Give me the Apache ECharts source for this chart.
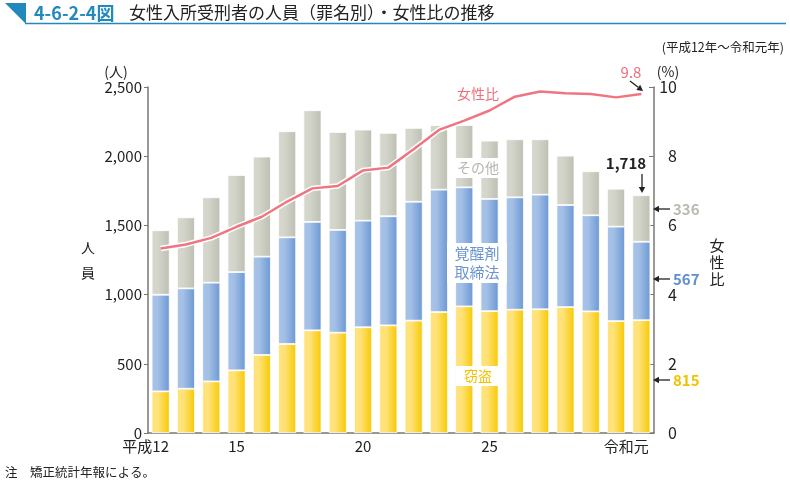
<!DOCTYPE html>
<html><head><meta charset="utf-8">
<script src="https://cdn.jsdelivr.net/npm/echarts@6/dist/echarts.min.js"></script>
<style>html,body{margin:0;padding:0;background:#fff}#c{width:790px;height:482px}</style>
</head><body><div id="c"></div>
<script>
const categories = ['平成12','13','14','15','16','17','18','19','20','21','22','23','24','25','26','27','28','29','30','令和元'];
const theft      = [301,320,373,453,564,643,742,725,764,778,812,874,915,881,891,894,910,879,809,815];
const stimulants = [698,725,713,710,710,771,783,742,770,788,859,884,860,810,812,828,737,694,682,567];
const others     = [466,513,617,701,723,766,807,708,658,602,533,467,450,421,419,400,357,318,274,336];
const femaleRatio = [5.33,5.45,5.64,5.96,6.25,6.69,7.07,7.14,7.59,7.67,8.2,8.76,9.03,9.32,9.72,9.87,9.82,9.8,9.7,9.8];
const shownLabels = {0:'{t|平成12}{h|平成}', 3:'15', 8:'20', 13:'25', 19:'{t|令和元}{h|令和}'};

const FONT = '"Noto Sans CJK JP", "Noto Sans", sans-serif';
const chart = echarts.init(document.getElementById('c'));

function grad(l, m, r) {
  return new echarts.graphic.LinearGradient(0, 0, 1, 0, [
    {offset: 0, color: l}, {offset: 0.35, color: m}, {offset: 1, color: r}
  ]);
}
function txt(text, x, y, color, size, opts) {
  return Object.assign({type: 'text', z: 100, style: Object.assign({
    text: text, x: x, y: y, fill: color, font: (opts && opts.bold ? 'bold ' : '') + size + 'px ' + FONT,
    textAlign: 'left', textVerticalAlign: 'middle'
  }, opts && opts.style || {})}, {});
}
function arrow(x1, y1, x2, y2) {
  const ang = Math.atan2(y2 - y1, x2 - x1), L = 6, W = 3.2;
  const bx = x2 - L * Math.cos(ang), by = y2 - L * Math.sin(ang);
  const px = -Math.sin(ang) * W, py = Math.cos(ang) * W;
  return [
    {type: 'line', z: 100, shape: {x1: x1, y1: y1, x2: bx, y2: by}, style: {stroke: '#222', lineWidth: 1.3}},
    {type: 'polygon', z: 100, shape: {points: [[x2, y2], [bx + px, by + py], [bx - px, by - py]]}, style: {fill: '#222'}}
  ];
}
const TEAL = '#2389bd';
const axisColor = '#7a7672';

const graphic = [
  {type: 'polygon', shape: {points: [[5, 3], [26, 3], [26, 24]]}, style: {fill: TEAL}},
  {type: 'line', shape: {x1: 25, y1: 23.5, x2: 786, y2: 23.5}, style: {stroke: TEAL, lineWidth: 1.6}},
  txt('4-6-2-4図', 34, 13, TEAL, 18, {bold: true}),
  txt('女性入所受刑者の人員（罪名別）・女性比の推移', 129, 13, '#222', 17),
  txt('(平成12年～令和元年)', 784, 47, '#222', 12.5, {style: {textAlign: 'right'}}),
  txt('(人)', 116, 72, '#222', 14, {style: {textAlign: 'center'}}),
  txt('人', 88, 248, '#222', 14, {style: {textAlign: 'center'}}),
  txt('員', 88, 273, '#222', 14, {style: {textAlign: 'center'}}),
  txt('(%)', 668, 72, '#222', 14, {style: {textAlign: 'center'}}),
  txt('女', 717, 245, '#222', 15, {style: {textAlign: 'center'}}),
  txt('性', 717, 262, '#222', 15, {style: {textAlign: 'center'}}),
  txt('比', 717, 279, '#222', 15, {style: {textAlign: 'center'}}),
  txt('9.8', 631, 72, '#ee6f7a', 15, {style: {textAlign: 'center'}}),
  ...arrow(630, 81, 643, 91),
  txt('1,718', 626, 163, '#222', 15, {bold: true, style: {textAlign: 'center'}}),
  ...arrow(642, 174, 642, 193),
  ...arrow(670, 209, 653, 209),
  txt('336', 673, 209, '#b9bbb0', 15, {bold: true}),
  ...arrow(670, 279, 653, 279),
  txt('567', 673, 279, '#5e8fd0', 15, {bold: true}),
  ...arrow(670, 380, 653, 380),
  txt('815', 673, 380, '#f2c200', 15, {bold: true}),
  txt('女性比', 478, 94, '#ee6f7a', 14, {style: {textAlign: 'center'}}),
  {type: 'rect', z: 99, shape: {x: 455, y: 158, width: 45, height: 20}, style: {fill: '#fff'}},
  txt('その他', 478, 168, '#b5b7ac', 14, {style: {textAlign: 'center'}}),
  {type: 'rect', z: 99, shape: {x: 447, y: 243, width: 60, height: 40}, style: {fill: '#fff'}},
  txt('覚醒剤', 477, 253, '#6c95d0', 15, {style: {textAlign: 'center'}}),
  txt('取締法', 477, 272, '#6c95d0', 15, {style: {textAlign: 'center'}}),
  {type: 'rect', z: 99, shape: {x: 456, y: 366, width: 44, height: 20}, style: {fill: '#fff'}},
  txt('窃盗', 478, 376, '#f2c200', 14, {style: {textAlign: 'center'}}),
  txt('注　矯正統計年報による。', 5, 472, '#222', 12.5)
];

const barBase = {type: 'bar', stack: 'total', barWidth: 18, yAxisIndex: 0};
chart.setOption({
  animation: false,
  textStyle: {fontFamily: FONT},
  grid: {left: 148, right: 136, top: 87, bottom: 49, containLabel: false},
  xAxis: {
    type: 'category', data: categories, boundaryGap: true,
    axisLine: {lineStyle: {color: axisColor, width: 1.5}},
    axisTick: {show: false},
    axisLabel: {
      interval: 0, margin: 6, color: '#222', fontSize: 15, fontFamily: FONT,
      formatter: function (v, i) { return shownLabels[i] || ''; },
      rich: {t: {fontSize: 15, color: '#222', fontFamily: FONT}, h: {fontSize: 15, color: 'rgba(0,0,0,0)', fontFamily: FONT}}
    }
  },
  yAxis: [
    {type: 'value', min: 0, max: 2500, interval: 500, splitLine: {show: false},
     axisLine: {show: true, lineStyle: {color: axisColor, width: 1.5}},
     axisTick: {show: true, length: 4, lineStyle: {color: axisColor}},
     axisLabel: {color: '#222', fontSize: 15, margin: 6, fontFamily: FONT,
       formatter: function (v) { return v.toLocaleString('en-US'); }}},
    {type: 'value', min: 0, max: 10, interval: 2, splitLine: {show: false},
     axisLine: {show: true, lineStyle: {color: axisColor, width: 1.5}},
     axisTick: {show: true, inside: true, length: 5, lineStyle: {color: axisColor}},
     axisLabel: {color: '#222', fontSize: 16, margin: 23, align: 'right', fontFamily: FONT}}
  ],
  series: [
    Object.assign({}, barBase, {name: '窃盗', data: theft,
      itemStyle: {color: grad('#ffe27a', '#ffe27a', '#f7c900'), borderColor: '#fff', borderWidth: 0.8}}),
    Object.assign({}, barBase, {name: '覚醒剤取締法', data: stimulants,
      itemStyle: {color: grad('#a9c3e8', '#a3bfe6', '#6b98d4'), borderColor: '#fff', borderWidth: 0.8}}),
    Object.assign({}, barBase, {name: 'その他', data: others,
      itemStyle: {color: grad('#d6d8ce', '#d3d5ca', '#bcbfb2'), borderColor: '#fff', borderWidth: 0.8}}),
    {type: 'line', yAxisIndex: 1, data: femaleRatio, symbol: 'none', z: 5,
     lineStyle: {color: '#fff', width: 5.5}},
    {type: 'line', name: '女性比', yAxisIndex: 1, data: femaleRatio, symbol: 'none', z: 6,
     lineStyle: {color: '#ef7580', width: 2.5}}
  ],
  graphic: graphic
});
</script></body></html>
